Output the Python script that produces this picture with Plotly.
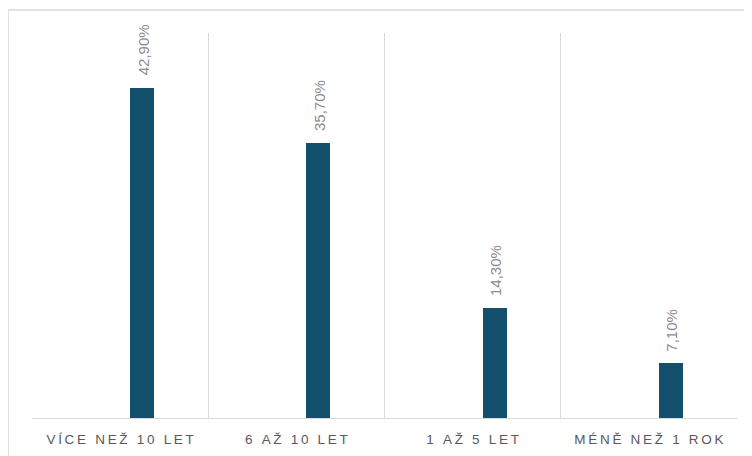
import plotly.graph_objects as go

categories = ["VÍCE NEŽ 10 LET", "6 AŽ 10 LET", "1 AŽ 5 LET", "MÉNĚ NEŽ 1 ROK"]
values = [42.9, 35.7, 14.3, 7.1]
value_labels = ["42,90%", "35,70%", "14,30%", "7,10%"]

BAR_COLOR = "#12506B"
GRID = "#d9d9d9"

def spaced(s):
    return "\u2009".join(list(s))

fig = go.Figure()
fig.add_trace(go.Bar(
    x=categories, y=values,
    marker=dict(color=BAR_COLOR, line=dict(width=0)),
    width=0.136, offset=0.057,
    hoverinfo="skip",
))

for c, v, t in zip(categories, values, value_labels):
    fig.add_annotation(
        x=c, y=v, text=t, showarrow=False, textangle=-90,
        xanchor="center", yanchor="bottom", xshift=23, yshift=10,
        font=dict(family="Liberation Sans, Arial, sans-serif", size=15, color="#8c8c8c"),
    )

fig.update_xaxes(
    type="category",
    tickmode="array", tickvals=categories, ticktext=[spaced(c) for c in categories],
    tickson="boundaries", ticks="", showgrid=True, gridcolor=GRID, gridwidth=1.3,
    showline=True, linecolor=GRID, linewidth=1.3,
    tickfont=dict(family="Liberation Sans, Arial, sans-serif", size=13.5, color="#595959"),
    ticklabelstandoff=9,
    range=[-0.5, 3.5], automargin=False,
)
fig.update_yaxes(range=[0, 50], showgrid=False, showticklabels=False, zeroline=False, ticks="")

fig.add_shape(type="rect", xref="paper", yref="paper",
              x0=-0.034, x1=1.2, y0=-0.3, y1=1.0597,
              line=dict(color=GRID, width=1.5), fillcolor="rgba(0,0,0,0)", layer="below")

fig.update_layout(
    width=752, height=456,
    margin=dict(l=24, r=23, t=25, b=46),
    plot_bgcolor="white", paper_bgcolor="white",
    showlegend=False, bargap=0,
)

fig.write_html("out.html")
